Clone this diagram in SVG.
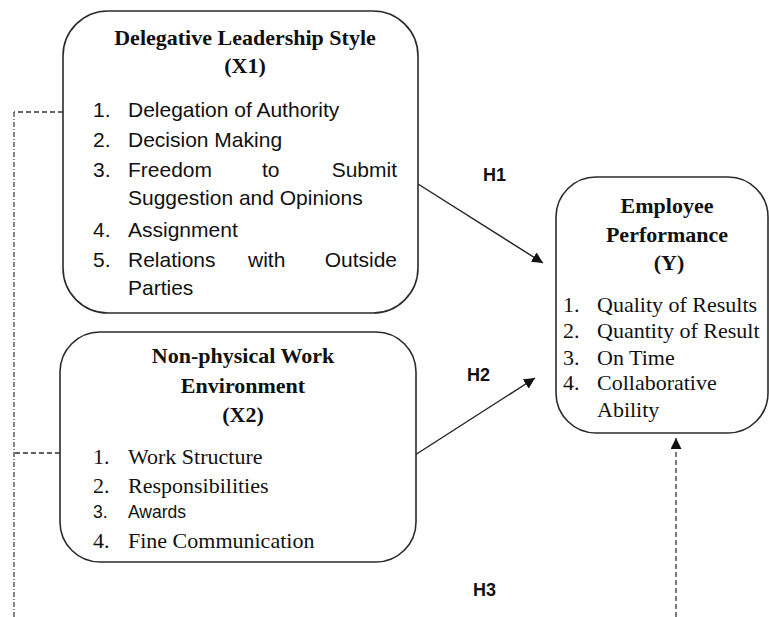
<svg xmlns="http://www.w3.org/2000/svg" width="769" height="617" viewBox="0 0 769 617">
<defs>
<style>
.box{fill:#fff;stroke:#2b2b2b;stroke-width:1.6}
.tt{font-family:"Liberation Serif","Times New Roman",serif;font-size:22px;font-weight:bold;fill:#111;text-anchor:middle}
.ts{font-family:"Liberation Serif","Times New Roman",serif;font-size:22px;fill:#111}
.cs{font-family:"Liberation Sans",Arial,sans-serif;font-size:21px;fill:#111}
.sm{font-family:"Liberation Sans",Arial,sans-serif;font-size:17.5px;fill:#111}
.h{font-family:"Liberation Sans",Arial,sans-serif;font-size:18px;font-weight:bold;fill:#111}
.ln{fill:none;stroke:#222;stroke-width:1.4}
.dash{fill:none;stroke:#333;stroke-width:1.3;stroke-dasharray:5,3}
.dd{fill:none;stroke:#444;stroke-width:1.3;stroke-dasharray:5,2,1,2}
</style>
<marker id="ah" viewBox="0 0 10 10" refX="10" refY="5" markerWidth="11" markerHeight="11" markerUnits="userSpaceOnUse" orient="auto">
<path d="M0,0 L10,5 L0,10 z" fill="#111"/>
</marker>
</defs>

<g id="connectors">
<path class="dash" d="M63,112 H14"/>
<path class="dd" d="M14,112 V617"/>
<path class="dash" d="M60,453 H14"/>
<path class="ln" d="M418,184 L543,263" marker-end="url(#ah)"/>
<path class="ln" d="M415,455 L535,378" marker-end="url(#ah)"/>
<path class="dash" d="M676,617 V438" marker-end="url(#ah)"/>
</g>

<g id="x1">
<rect class="box" x="63" y="11" width="355" height="302" rx="45"/>
<text class="tt" x="245" y="45">Delegative Leadership Style</text>
<text class="tt" x="245" y="73">(X1)</text>
<text class="cs" x="93" y="117">1.</text><text class="cs" x="128" y="117">Delegation of Authority</text>
<text class="cs" x="93" y="147">2.</text><text class="cs" x="128" y="147">Decision Making</text>
<text class="cs" x="93" y="177">3.</text><text class="cs" x="128" y="177">Freedom</text><text class="cs" x="262" y="177">to</text><text class="cs" x="397" y="177" text-anchor="end">Submit</text>
<text class="cs" x="128" y="205">Suggestion and Opinions</text>
<text class="cs" x="93" y="237">4.</text><text class="cs" x="128" y="237">Assignment</text>
<text class="cs" x="93" y="267">5.</text><text class="cs" x="128" y="267">Relations</text><text class="cs" x="248" y="267">with</text><text class="cs" x="397" y="267" text-anchor="end">Outside</text>
<text class="cs" x="128" y="295">Parties</text>
</g>

<g id="x2">
<rect class="box" x="60" y="332" width="356" height="230" rx="40"/>
<text class="tt" x="243" y="363">Non-physical Work</text>
<text class="tt" x="243" y="393">Environment</text>
<text class="tt" x="243" y="422">(X2)</text>
<text class="ts" x="93" y="464">1.</text><text class="ts" x="128" y="464">Work Structure</text>
<text class="ts" x="93" y="493">2.</text><text class="ts" x="128" y="493">Responsibilities</text>
<text class="sm" x="93" y="518">3.</text><text class="sm" x="128" y="518">Awards</text>
<text class="ts" x="93" y="548">4.</text><text class="ts" x="128" y="548">Fine Communication</text>
</g>

<g id="y">
<rect class="box" x="556" y="177" width="212" height="256" rx="40"/>
<text class="tt" x="667" y="213">Employee</text>
<text class="tt" x="667" y="242">Performance</text>
<text class="tt" x="669" y="270">(Y)</text>
<text class="ts" x="563" y="312">1.</text><text class="ts" x="597" y="312">Quality of Results</text>
<text class="ts" x="563" y="338">2.</text><text class="ts" x="597" y="338">Quantity of Result</text>
<text class="ts" x="563" y="365">3.</text><text class="ts" x="597" y="365">On Time</text>
<text class="ts" x="563" y="390">4.</text><text class="ts" x="597" y="390">Collaborative</text>
<text class="ts" x="597" y="417">Ability</text>
</g>

<g id="labels">
<text class="h" x="483" y="181">H1</text>
<text class="h" x="467" y="381">H2</text>
<text class="h" x="473" y="596">H3</text>
</g>
</svg>
